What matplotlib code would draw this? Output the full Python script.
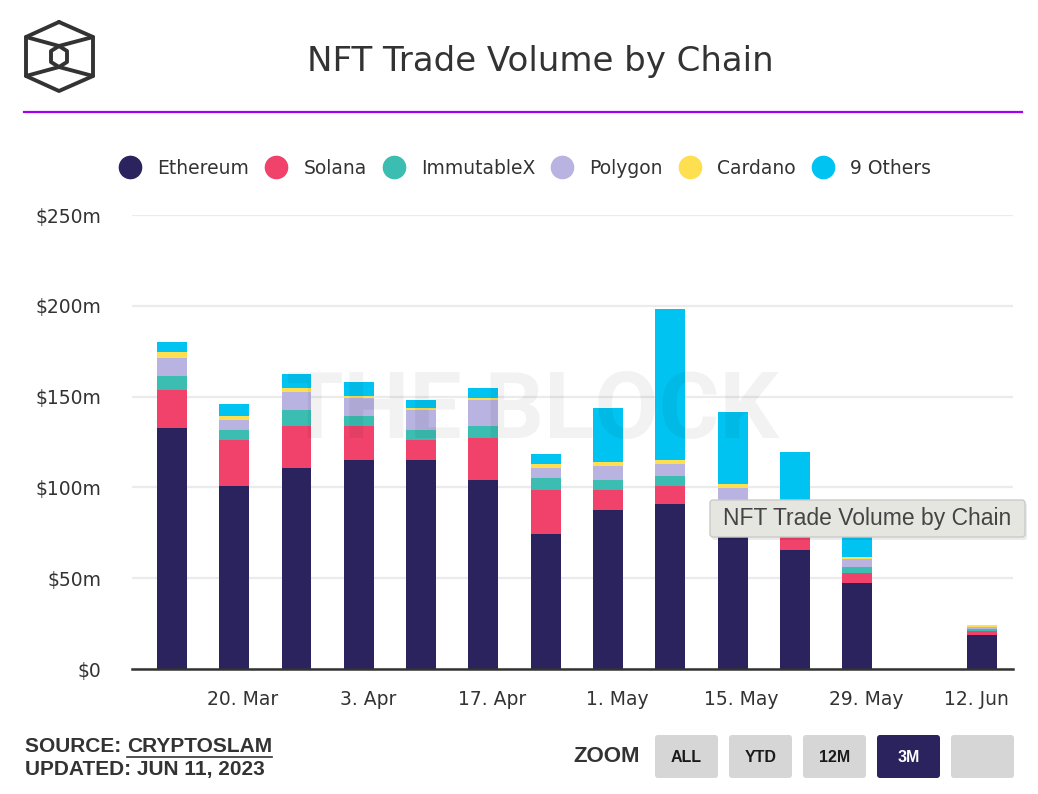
import numpy as np
import pandas as pd
import matplotlib
matplotlib.use('Agg')
import matplotlib.pyplot as plt
from matplotlib.lines import Line2D
from matplotlib.patches import FancyBboxPatch
from matplotlib.transforms import IdentityTransform, ScaledTranslation

W, H = 1038, 794

# weekly buckets (week of 4 Jun has no bar)
weeks = pd.date_range('2023-03-12', periods=14, freq='7D')
tick_dates = pd.to_datetime(['2023-03-20', '2023-04-03', '2023-04-17', '2023-05-01',
                             '2023-05-15', '2023-05-29', '2023-06-12'])
tick_labels = ['20. Mar', '3. Apr', '17. Apr', '1. May', '15. May', '29. May', '12. Jun']

# $m
ethereum = [132.7, 100.7, 110.6, 115.0, 115.0, 104.0, 74.1, 87.4, 90.7, 77.0, 65.3, 47.6, 0, 18.8]
solana = [21.1, 25.4, 23.2, 18.8, 11.1, 23.2, 24.4, 11.1, 10.0, 10.0, 10.0, 5.5, 0, 2.2]
immutablex = [7.7, 5.5, 8.9, 5.6, 5.5, 6.6, 6.6, 5.5, 5.5, 5.5, 4.0, 3.3, 0, 1.1]
polygon = [10.0, 5.6, 10.0, 9.9, 11.1, 14.4, 5.5, 7.7, 6.6, 7.1, 5.0, 4.4, 0, 1.1]
cardano = [3.3, 2.2, 2.2, 1.1, 1.1, 1.1, 2.2, 2.2, 2.2, 2.2, 1.5, 1.1, 0, 1.1]
others = [5.5, 6.6, 7.7, 7.8, 4.4, 5.6, 5.6, 29.9, 83.0, 39.8, 33.7, 16.1, 0, 0.2]

names = ['Ethereum', 'Solana', 'ImmutableX', 'Polygon', 'Cardano', '9 Others']
series = [ethereum, solana, immutablex, polygon, cardano, others]
colors = ['#2b235e', '#f0426a', '#3bbdb2', '#b8b3e0', '#fddf4f', '#00c3f2']

yticks = [0, 50, 100, 150, 200, 250]
ytick_labels = ['$0', '$50m', '$100m', '$150m', '$200m', '$250m']

plt.rcParams['font.family'] = ['DejaVu Sans']

fig = plt.figure(figsize=(W / 100, H / 100), dpi=100)
ax = fig.add_axes([132 / W, 1 - 669 / H, (1013 - 132) / W, (669 - 215) / H])

x = (weeks - weeks[0]).days / 7
bottom = np.zeros(len(weeks))
for name, vals, col in zip(names, series, colors):
    vals = np.array(vals)
    ax.bar(x, vals, width=0.48, bottom=bottom, color=col, label=name, zorder=2)
    bottom += vals

ax.set_xlim(-0.64, 13.5)
ax.set_ylim(0, 250)
ax.set_yticks(yticks)
ax.set_yticklabels(ytick_labels)
ax.set_xticks((tick_dates - weeks[0]).days / 7)
ax.set_xticklabels(tick_labels)
ax.yaxis.grid(True, color='#ebebeb', lw=1.6, zorder=0)
ax.set_axisbelow(True)
for s in ['top', 'right', 'left']:
    ax.spines[s].set_visible(False)
ax.spines['bottom'].set_color('#333333')
ax.spines['bottom'].set_linewidth(1.8)
ax.spines['bottom'].set_zorder(3)
ax.tick_params(axis='both', length=0, labelsize=13.5, labelcolor='#333333')
ax.tick_params(axis='y', pad=22)
ax.tick_params(axis='x', pad=15)
last = ax.get_xticklabels()[-1]
last.set_transform(last.get_transform() + ScaledTranslation(-10 / 72, 0, fig.dpi_scale_trans))

# legend
handles = [Line2D([], [], marker='o', ls='', markersize=16, color=c) for c in colors]
fig.legend(handles, names, loc='center', bbox_to_anchor=(525 / W, 1 - 168 / H), ncol=6,
           frameon=False, fontsize=13.5, handletextpad=0.84, columnspacing=0.85,
           handlelength=1.2, labelcolor='#333333')

# title + header
fig.text(540 / W, 1 - 61 / H, 'NFT Trade Volume by Chain', fontsize=24.5, color='#333333',
         ha='center', va='center')
fig.add_artist(Line2D([24, 1022], [H - 112, H - 112], lw=1.6, color='#a100f2',
                      transform=IdentityTransform()))

# logo
lk = dict(lw=2.8, color='#333333', transform=IdentityTransform(), solid_joinstyle='round',
          solid_capstyle='round')
outer = [(59, 22), (93, 37), (93, 76), (59, 91), (26, 76), (26, 37), (59, 22)]
inner = [(59, 46), (67, 51), (67, 62), (59, 67), (51, 62), (51, 51), (59, 46)]
for pts in (outer, inner):
    fig.add_artist(Line2D([p[0] for p in pts], [H - p[1] for p in pts], **lk))
for a, b in [((26, 37), (59, 46)), ((93, 37), (59, 46)), ((26, 76), (59, 67)), ((93, 76), (59, 67))]:
    fig.add_artist(Line2D([a[0], b[0]], [H - a[1], H - b[1]], **lk))

# watermark
fig.text(532 / W, 1 - 412 / H, 'THE BLOCK', fontsize=67, fontweight='bold', color='black',
         family=['Roboto', 'DejaVu Sans'], alpha=0.05, ha='center', va='center', zorder=5)

# tooltip
fig.add_artist(FancyBboxPatch((712, H - 540), 315, 37, boxstyle='round,pad=0,rounding_size=3',
                              transform=IdentityTransform(), fc='black', ec='none',
                              alpha=0.08, zorder=6))
fig.add_artist(FancyBboxPatch((710, H - 537), 315, 37, boxstyle='round,pad=0,rounding_size=3',
                              transform=IdentityTransform(), fc='#e6e6e1', ec='#cacac6',
                              lw=1, zorder=7))
fig.text(723 / W, 1 - 519 / H, 'NFT Trade Volume by Chain', fontsize=16.5, color='#444444',
         family=['Liberation Sans', 'DejaVu Sans'], ha='left', va='center', zorder=8)

# footer
NARROW = ['Liberation Sans Narrow', 'Liberation Sans', 'DejaVu Sans']
t1 = fig.text(25 / W, 1 - 746 / H, 'SOURCE: ', fontsize=15, fontweight='bold',
              color='#333333', family=NARROW, ha='left', va='center')
fig.text(25 / W, 1 - 770 / H, 'UPDATED: JUN 11, 2023', fontsize=15, fontweight='bold',
         color='#333333', family=NARROW, ha='left', va='center')
fig.canvas.draw()
bb = t1.get_window_extent()
t2 = fig.text(bb.x1 / W, 1 - 746 / H, 'CRYPTOSLAM', fontsize=15, fontweight='bold',
              color='#333333', family=NARROW, ha='left', va='center')
fig.canvas.draw()
bb2 = t2.get_window_extent()
fig.add_artist(Line2D([bb2.x0, bb2.x1], [H - 757, H - 757], lw=1.2, color='#333333',
                      transform=IdentityTransform()))

BTN = ['Liberation Sans', 'DejaVu Sans']
fig.text(573 / W, 1 - 757 / H, 'ZOOM', fontsize=16, fontweight='bold', color='#333333',
         family=BTN, ha='left', va='center')
buttons = [('ALL', 655), ('YTD', 729), ('12M', 803), ('3M', 877), ('', 951)]
for lab, bx in buttons:
    active = lab == '3M'
    fig.add_artist(FancyBboxPatch((bx, H - 778), 63, 43, boxstyle='round,pad=0,rounding_size=3',
                                  transform=IdentityTransform(),
                                  fc='#2b235e' if active else '#d6d6d6', ec='none'))
    if lab:
        fig.text((bx + 31.5) / W, 1 - 758 / H, lab, fontsize=11.5, fontweight='bold',
                 color='white' if active else '#1a1a1a', family=BTN, ha='center', va='center')

fig.savefig('out.png', dpi=100)
